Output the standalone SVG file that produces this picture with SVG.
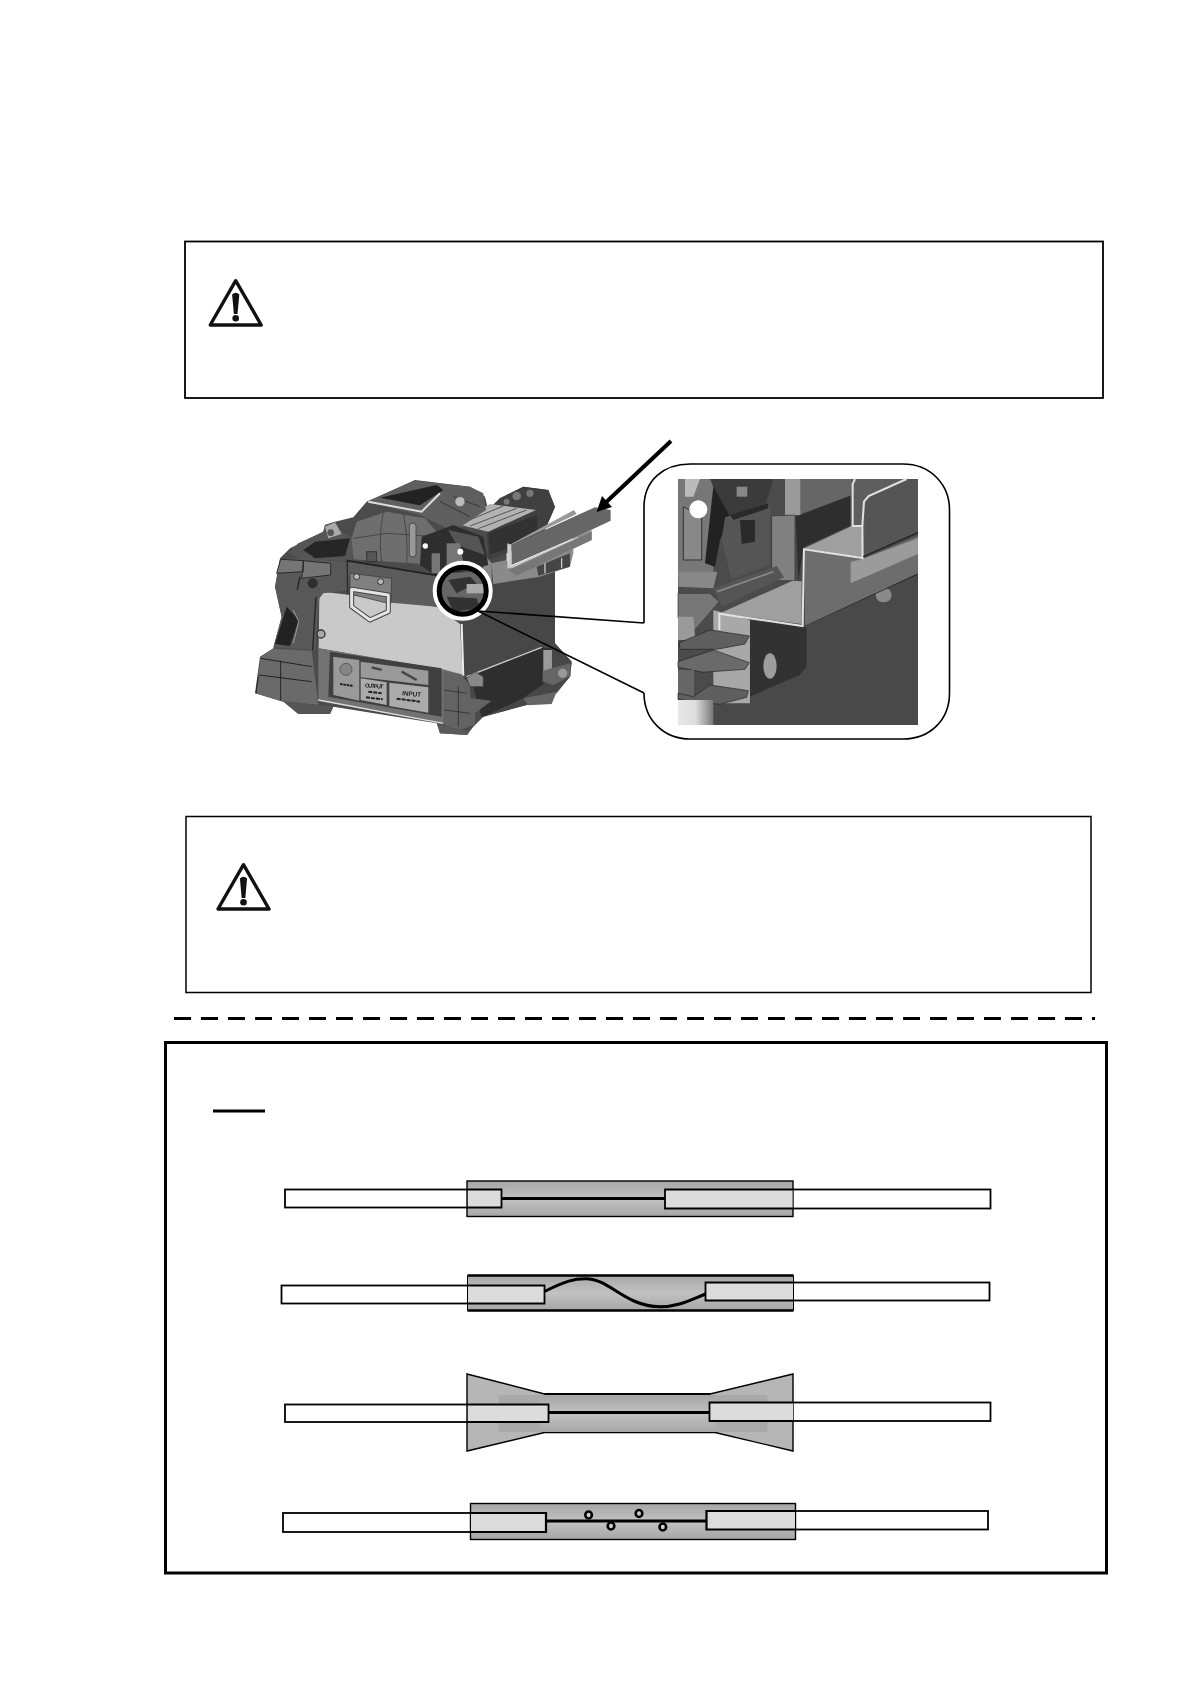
<svg xmlns="http://www.w3.org/2000/svg" width="1190" height="1684" viewBox="0 0 1190 1684">
<style>
.box{fill:#fff;stroke:#000}
.fw{fill:#fff;stroke:#000;stroke-width:1.8}
.ov{fill:#dcdcdc}
.core{fill:none;stroke:#000;stroke-width:3}
.tube{fill:url(#tg);stroke:#000;stroke-width:1.4}
.ln{fill:none;stroke:#222;stroke-width:2}
.lt{fill:none;stroke:#ccc;stroke-width:4}
.lead{fill:none;stroke:#000;stroke-width:1.6}
.wh{fill:none;stroke:#e2e2e2;stroke-width:6;stroke-linejoin:miter}
.bub{fill:#ccc;stroke:#000;stroke-width:2.6}
text{font-family:"Liberation Sans",Arial,sans-serif;font-weight:bold;fill:#222}
</style>
<defs>
<linearGradient id="tg" x1="0" y1="0" x2="0" y2="1"><stop offset="0" stop-color="#a6a6a6"/><stop offset=".5" stop-color="#c2c2c2"/><stop offset="1" stop-color="#a6a6a6"/></linearGradient>
<linearGradient id="bl" x1="0" y1="0" x2="1" y2="0"><stop offset="0" stop-color="#e8e8e8"/><stop offset=".5" stop-color="#ddd"/><stop offset="1" stop-color="#777"/></linearGradient>
<filter id="soft" x="-2%" y="-2%" width="104%" height="104%"><feGaussianBlur stdDeviation="0.5"/></filter>
<g id="warn">
<path d="M0 -44.300L25.500 0H-25.500Z" fill="#fff" stroke="#111" stroke-width="3.400" stroke-linejoin="round"/>
<path d="M-3.600 -30.500Q0 -34 3.600 -30.500L1.800 -11H-1.800Z" fill="#111"/>
<circle cy="-6.800" r="3.300" fill="#111"/>
</g>
</defs>
<rect width="1190" height="1684" fill="#fff"/>

<g id="caution-1">
<rect class="box" x="185" y="241.500" width="918" height="156.500" stroke-width="1.800"/>
<use href="#warn" x="235.700" y="325"/>
</g>

<g id="machine" transform="translate(240 430) scale(.3333)" filter="url(#soft)">
<!-- silhouette -->
<path d="M45 790L60 680L100 655L125 560L105 470L120 385L150 355L250 305L255 285L285 275L340 262L380 215L525 150L690 170L735 200L745 240L780 205L850 170L925 180L945 232L915 300L800 345L800 420L945 405V640L995 695L990 740L950 790L860 825L730 860L700 890L680 915L600 910L590 880L280 830L270 852L175 852L130 815Z" fill="#4c4c4c"/>
<!-- rear body -->
<path d="M660 590L745 470L945 405V640L995 695L990 740L945 790L860 825L730 860L650 760Z" fill="#474747"/>
<path d="M690 735L905 655H935V745L850 805L725 862Z" fill="#2f2f2f"/>
<path d="M680 740L905 652" class="lt" stroke-width="5"/>
<path d="M910 660H936V745H910Z" fill="#9a9a9a"/>
<path d="M908 722L990 700L992 738L940 765L908 755Z" fill="#666"/>
<circle cx="968" cy="730" r="14" fill="#999"/>
<path d="M850 805L950 785L935 822L865 826Z" fill="#666"/>
<!-- heater -->
<path d="M738 245L780 205L850 170L925 180L945 230L915 300L890 335L745 390Z" fill="#3f3f3f"/>
<path d="M640 280L750 222L888 240L745 305Z" fill="#b2b2b2"/>
<path d="M665 280L790 228M690 288L830 235M715 296L860 240" fill="none" stroke="#555" stroke-width="3"/>
<path d="M745 310L890 255L895 330L750 372Z" fill="#333"/>
<circle cx="830" cy="198" r="13" fill="#777"/><circle cx="870" cy="190" r="11" fill="#777"/><circle cx="800" cy="215" r="9" fill="#777"/>
<!-- tray -->
<path d="M755 400L800 390L830 435L1055 330V300L1000 325V370L990 410L900 440L760 462Z" fill="#8a8a8a"/>
<path d="M730 370L755 400V465L730 480Z" fill="#8b8b8b"/>
<path d="M890 410L990 370V410L895 437Z" fill="#444"/>
<path d="M915 400V430M965 385V415" class="lt" stroke-width="10"/>
<path d="M808 345L1002 240L1010 252L815 345Z" fill="#999"/>
<path d="M802 340L815 345V412L802 416Z" fill="#ccc"/>
<path d="M815 345L1065 232L1112 240V272L1010 320L815 405Z" fill="#666"/>
<path d="M815 408L1015 320V336L815 425Z" fill="#c4c4c4"/>
<path d="M805 420L1055 305V330L830 437Z" fill="#777"/>
<!-- hood -->
<path d="M380 215L525 152L690 170L730 190L738 240L640 305L540 255Z" fill="#5e5e5e"/>
<path d="M420 203L590 165L610 180L540 226Z" fill="#202020"/>
<path d="M385 215L545 245L600 190" fill="none" stroke="#ddd" stroke-width="6"/>
<path d="M640 200L720 230M600 215L690 260" class="ln" stroke-width="8"/>
<circle cx="660" cy="215" r="14" fill="#bbb"/>
<!-- left controls -->
<path d="M145 370L175 340L250 305L255 285L285 275L310 310L340 320L335 395L180 385Z" fill="#555"/>
<path d="M190 360L225 335L330 325L315 378L225 385Z" fill="#262626"/>
<path d="M255 290L285 277L305 312L265 325Z" fill="#aaa"/>
<circle cx="272" cy="308" r="10" fill="#555"/>
<!-- dome -->
<path d="M335 325L350 275L440 245L555 265L590 305L590 405L340 388Z" fill="#6e6e6e"/>
<path d="M430 250Q415 320 425 395M490 250Q505 320 500 400M340 325L440 310L590 320" fill="none" stroke="#333" stroke-width="2"/>
<rect x="508" y="280" width="20" height="100" rx="8" fill="#999" stroke="#333" stroke-width="2"/>
<path d="M380 365H410V395H380Z" fill="#555" stroke="#222" stroke-width="2"/>
<!-- centre mech -->
<path d="M545 320L640 285L730 320L745 405L650 430L590 440L540 405Z" fill="#2f2f2f"/>
<path d="M625 300L715 320L735 375L650 345Z" fill="#555"/>
<path d="M575 370V430H600V370ZM620 340V410L670 400L660 340Z" fill="#777"/>
<circle cx="556" cy="348" r="8" fill="#fff"/><circle cx="661" cy="365" r="9" fill="#fff"/>
<!-- light panel -->
<path d="M238 500L250 485L330 495L590 530L660 582L668 738L610 720L236 655Z" fill="#c9c9c9"/>
<path d="M665 582L670 738" stroke="#eee" stroke-width="6"/>
<!-- belt -->
<path d="M320 392L590 438L590 530L455 518L330 490Z" fill="#5c5c5c"/>
<path d="M320 392L590 436" stroke="#222" stroke-width="5"/>
<path d="M322 394L322 490" stroke="#222" stroke-width="3"/>
<path d="M330 430L455 445L452 522L330 492Z" fill="#808080" stroke="#333" stroke-width="2"/>
<circle cx="350" cy="440" r="9" fill="#bbb" stroke="#333" stroke-width="3"/><circle cx="422" cy="455" r="9" fill="#bbb" stroke="#333" stroke-width="3"/>
<path d="M335 478L445 495V545L390 570L335 530Z" fill="none" stroke="#444" stroke-width="15" stroke-linejoin="round"/>
<path d="M335 478L445 495V545L390 570L335 530Z" fill="none" stroke="#e4e4e4" stroke-width="9" stroke-linejoin="round"/>
<!-- left bumper -->
<path d="M105 470L122 388L190 382L270 392L318 396L320 482L250 490L238 505L225 660L100 652L125 560Z" fill="#595959"/>
<path d="M122 388L190 392V425L110 430ZM190 392L272 400V435L185 445Z" fill="#757575" stroke="#2a2a2a" stroke-width="3"/>
<path d="M180 440L172 480" stroke="#222" stroke-width="4"/>
<circle cx="218" cy="460" r="15" fill="#2f2f2f"/>
<path d="M105 642L140 530L176 570L150 648Z" fill="#222"/>
<path d="M160 540L176 575L160 640" fill="none" stroke="#999" stroke-width="3"/>
<path d="M228 500L218 660" stroke="#222" stroke-width="4"/>
<circle cx="243" cy="612" r="12" fill="#aaa" stroke="#333" stroke-width="4"/>
<path d="M62 682L100 656L215 662L235 825L130 815L48 790Z" fill="#6a6a6a"/>
<path d="M56 735L215 755M62 685L215 710M122 692L122 812M55 740L48 790" fill="none" stroke="#222" stroke-width="3"/>
<path d="M130 812L280 830L270 852L175 852Z" fill="#555"/>
<!-- front panel -->
<path d="M235 655L610 718L670 735L650 880L600 880L235 812Z" fill="#727272"/>
<path d="M270 665L605 715V860L265 800Z" fill="#3f3f3f"/>
<path d="M280 680L358 690V812L280 795Z" fill="#9a9a9a"/>
<circle cx="318" cy="718" r="18" fill="#858585" stroke="#444" stroke-width="2"/>
<path d="M362 695L565 722V765L362 742Z" fill="#9a9a9a"/>
<path d="M362 745L440 757V825L362 810Z" fill="#ababab"/>
<path d="M448 758L565 772V848L448 828Z" fill="#ababab"/>
<path d="M235 810L610 880" stroke="#ddd" stroke-width="4"/>
<text x="374" y="772" font-size="17" transform="rotate(4 374 772)" textLength="56">OUTPUT</text>
<text x="486" y="796" font-size="19" transform="rotate(5 486 796)">INPUT</text>
<path d="M385 785L425 790M378 802L428 808M470 806L540 815" stroke="#222" stroke-width="6" stroke-dasharray="12 3"/>
<path d="M300 762L340 768" stroke="#222" stroke-width="6" stroke-dasharray="8 2"/>
<path d="M395 712L425 720M485 725L530 750" stroke="#444" stroke-width="7"/>
<!-- right bumper -->
<path d="M610 722L660 732L690 765L692 805L755 812L705 850L705 885L650 902L610 882Z" fill="#646464"/>
<path d="M612 780L680 790M612 840L690 850M655 770V890" fill="none" stroke="#222" stroke-width="2"/>
<path d="M680 745L705 725L730 740L730 770L690 770Z" fill="#888" stroke="#333" stroke-width="2"/>
<path d="M592 882L690 905L700 890L682 915L600 910Z" fill="#5a5a5a"/>
<!-- inside lens -->
<path d="M600 430L730 425L748 520L700 560L630 550L598 500Z" fill="#666"/>
<path d="M625 450L690 440L710 460L650 490ZM620 500L710 505L720 535L640 545Z" fill="#333"/>
<path d="M680 462H745V490H680Z" fill="#aaa"/>
</g>

<g id="callout">
<path d="M644 623V507C644 480 664 464 690 464H903C930 464 949.500 484 949.500 510V693C949.500 720 930 739 903 739H690C664 739 644 720 644 693" fill="#fff" stroke="#000" stroke-width="1.600"/>
<g id="detail" transform="translate(630 440) scale(.3333)" filter="url(#soft)">
<rect x="144" y="117" width="720" height="738" fill="#4c4c4c"/>
<path d="M144 117H250V400H144Z" fill="#777"/>
<path d="M165 117H210L190 170L165 170Z" fill="#bbb"/>
<path d="M240 117H430L405 200L285 230L275 290L250 140Z" fill="#3a3a3a"/>
<path d="M320 140H352V170H320Z" fill="#888"/>
<path d="M250 140L300 230L270 300L255 380L225 370Z" fill="#222"/>
<path d="M160 200L160 360H215L215 230Z" fill="#888" stroke="#333" stroke-width="3"/>
<circle cx="205" cy="208" r="27" fill="#fff"/>
<path d="M285 232L420 190V375L305 418L275 300Z" fill="#555"/>
<path d="M300 225L415 190V205L310 240ZM330 240H375V305L335 312Z" fill="#2b2b2b"/>
<path d="M465 117H512V225H465Z" fill="#9a9a9a"/>
<path d="M512 117H665V165L512 222Z" fill="#666"/>
<path d="M425 228L495 225V422H425Z" fill="#808080" stroke="#333" stroke-width="2"/>
<path d="M497 230L660 168V258L520 322L505 425Z" fill="#2f2f2f"/>
<path d="M145 395L262 395L250 445L145 440Z" fill="#888"/>
<path d="M250 445L440 378L462 412L275 500Z" fill="#555"/>
<path d="M262 455L430 395" stroke="#888" stroke-width="5"/>
<path d="M530 560L864 405V855H250V790L360 770L525 690Z" fill="#4a4a4a"/>
<path d="M250 510L360 540V790H250Z" fill="#a8a8a8"/>
<path d="M144 460L240 460L268 485L190 575L144 535Z" fill="#777" stroke="#333" stroke-width="2"/>
<path d="M144 530L190 530L196 600H144Z" fill="#9a9a9a"/>
<path d="M148 608L240 570L358 588L345 612L260 628L150 628Z" fill="#5e5e5e" stroke="#222" stroke-width="2"/>
<path d="M144 665L250 630L358 668L345 688L220 697L144 682Z" fill="#6a6a6a" stroke="#222" stroke-width="2"/>
<path d="M144 690H192V770H144Z" fill="#666"/>
<path d="M190 770L240 735L355 752L350 772L270 793L144 778V760Z" fill="#5e5e5e" stroke="#222" stroke-width="2"/>
<rect x="144" y="780" width="106" height="75" fill="url(#bl)"/>
<path d="M360 540L530 562V680L510 705L360 770Z" fill="#333"/>
<ellipse cx="420" cy="678" rx="20" ry="38" fill="#9d9d9d"/>
<ellipse cx="761" cy="465" rx="24" ry="22" fill="#8a8a8a"/>
<path d="M530 555L864 402" stroke="#222" stroke-width="3"/>
<path d="M525 552V330L695 357L864 288V400L530 555Z" fill="#6d6d6d"/>
<path d="M662 366L697 357L864 295V342L662 430Z" fill="#9b9b9b"/>
<path d="M270 520L488 422L515 424V552Z" fill="#9f9f9f"/>
<path d="M520 326L665 258L695 258L697 352Z" fill="#9f9f9f"/>
<path d="M668 117H864V275L702 350L696 258L665 255Z" fill="#5f5f5f"/>
<path d="M705 175L715 165L830 117H864V275L702 350Z" fill="#555"/>
<path d="M268 570V521L518 558L522 328L698 354L697 258H668V132L675 117" class="wh"/>
<path d="M697 258L702 185L716 168L830 117" class="wh"/>
<path d="M700 350L864 278" stroke="#222" stroke-width="4"/>
</g>
</g>

<g id="lens">
<circle cx="462.700" cy="590.700" r="27.500" fill="none" stroke="#fff" stroke-width="5"/>
<circle cx="462.700" cy="590.700" r="23.500" fill="none" stroke="#000" stroke-width="5"/>
</g>

<g id="connectors">
<path class="lead" d="M478 611L644 623M478 611L644 693"/>
<path d="M671 441L601 507" fill="none" stroke="#000" stroke-width="4"/>
<path d="M596.500 512L602 496L612 507Z" fill="#000"/>
</g>

<g id="caution-2">
<rect class="box" x="186" y="816.500" width="905" height="176" stroke-width="1.500"/>
<use href="#warn" x="243.500" y="909"/>
</g>

<line id="divider" x1="174" y1="1018.500" x2="1095" y2="1018.500" stroke="#000" stroke-width="3" stroke-dasharray="17 10"/>

<g id="frame">
<rect x="165.500" y="1042.500" width="941" height="530.500" fill="#fff" stroke="#000" stroke-width="3"/>
<line x1="213" y1="1111" x2="265" y2="1111" stroke="#000" stroke-width="3"/>
</g>

<g id="splice-1">
<rect x="285" y="1189.500" width="216.500" height="18" class="fw"/>
<rect x="665" y="1189.500" width="325.500" height="19" class="fw"/>
<rect class="tube" x="467" y="1181" width="326" height="35.500"/>
<rect class="ov" x="468" y="1190" width="33" height="17"/>
<rect class="ov" x="665.500" y="1190" width="127" height="18"/>
<path d="M467 1189.500H501.500V1207.500H467M793 1189.500H665V1208.500H793" fill="none" stroke="#000" stroke-width="1.800"/>
<line class="core" x1="501" y1="1198.500" x2="665" y2="1198.500"/>
</g>

<g id="splice-2">
<rect x="281.500" y="1285.500" width="263" height="18" class="fw"/>
<rect x="705.500" y="1282.500" width="284" height="18" class="fw"/>
<rect x="467.500" y="1275.500" width="326" height="35" fill="url(#tg)"/>
<path d="M467.500 1275.500H793.500M467.500 1310.500H793.500" stroke="#000" stroke-width="2.400"/>
<path d="M467.500 1275.500V1310.500M793.500 1275.500V1310.500" stroke="#000" stroke-width="1"/>
<rect class="ov" x="468" y="1286" width="76" height="17"/>
<rect class="ov" x="706" y="1283" width="87" height="17"/>
<path d="M467.500 1285.500H544.500V1303.500H467.500M793.500 1282.500H705.500V1300.500H793.500" fill="none" stroke="#000" stroke-width="1.800"/>
<path class="core" d="M544.500 1291.500C565 1281 575 1278.500 586 1278.700C610 1279 625 1306.500 660 1306.700C678 1306.800 690 1300 705.500 1294"/>
</g>

<g id="splice-3">
<rect x="285" y="1404.500" width="263.500" height="17.500" class="fw" stroke-width="2"/>
<rect x="709.500" y="1402.500" width="281" height="18.500" class="fw"/>
<path d="M467 1374L544.500 1394H710L793 1374V1451L715 1432.500H544.500L467 1451Z" fill="#b6b6b6" stroke="#000" stroke-width="1.400"/>
<rect x="498.500" y="1395" width="269" height="37" fill="#a9a9a9"/>
<rect x="540" y="1396" width="175" height="36" fill="url(#tg)"/>
<path d="M544.500 1394H710" stroke="#000" stroke-width="2"/>
<rect class="ov" x="468" y="1405" width="80" height="17"/>
<rect class="ov" x="710" y="1403" width="83" height="18"/>
<path d="M467 1404.500H548.500V1422H467M793 1402.500H709.500V1421H793" fill="none" stroke="#000" stroke-width="1.800"/>
<path d="M467 1422H548" stroke="#000" stroke-width="2.200"/>
<line class="core" x1="548" y1="1412.500" x2="709" y2="1412.500"/>
</g>

<g id="splice-4">
<rect x="283" y="1513" width="263" height="19" class="fw" stroke-width="2.200"/>
<rect x="706.500" y="1511" width="281.500" height="18.500" class="fw" stroke-width="2.200"/>
<rect class="tube" x="470.500" y="1503.500" width="325" height="36"/>
<rect class="ov" x="471" y="1514" width="75" height="17"/>
<rect class="ov" x="707" y="1512" width="88" height="17"/>
<path d="M470.500 1513H546V1532H470.500M795.500 1511H706.500V1529.500H795.500" fill="none" stroke="#000" stroke-width="2.200"/>
<line class="core" x1="546" y1="1521" x2="706" y2="1521"/>
<ellipse class="bub" cx="588.600" cy="1515" rx="3.300" ry="3.500"/>
<ellipse class="bub" cx="611" cy="1526" rx="3.300" ry="3.500"/>
<ellipse class="bub" cx="639" cy="1513.500" rx="3.300" ry="3.500"/>
<ellipse class="bub" cx="662.800" cy="1527" rx="3.300" ry="3.500"/>
</g>
</svg>
